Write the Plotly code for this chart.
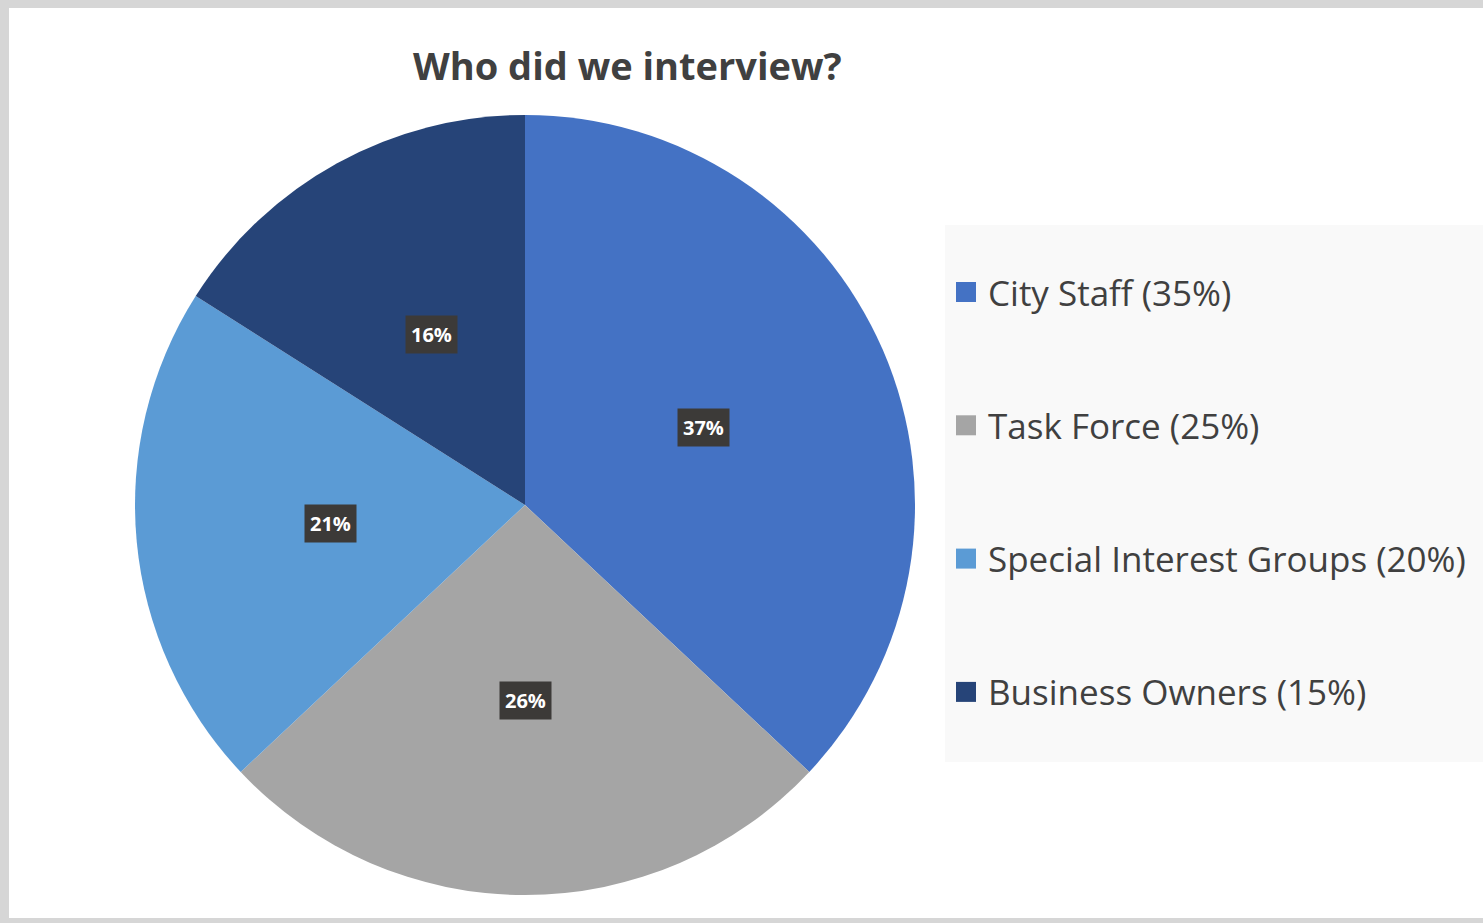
import math
import plotly.graph_objects as go

# ---- data ----
categories = ["City Staff", "Task Force", "Special Interest Groups", "Business Owners"]
slice_pct = [37, 26, 21, 16]
legend_pct = [35, 25, 20, 15]
colors = ["#4472C4", "#A5A5A5", "#5B9BD5", "#264478"]
title_text = "Who did we interview?"

W, H = 1483, 923
# pie geometry in pixels
cx, cy, R = 525, 505, 390

def px(x):
    return x / W

def py(y):
    return 1 - y / H

fig = go.Figure()
fig.add_trace(go.Pie(
    labels=categories,
    values=slice_pct,
    sort=False,
    direction="clockwise",
    rotation=0,
    marker=dict(colors=colors, line=dict(width=0)),
    textinfo="none",
    hoverinfo="label+percent",
    showlegend=False,
    domain=dict(x=[px(cx - R), px(cx + R)], y=[py(cy + R), py(cy - R)]),
))

shapes = []
annotations = []

# frame: gray band top/left, white inner area
shapes.append(dict(type="rect", xref="paper", yref="paper", x0=px(9), x1=1, y0=py(918), y1=py(8),
                   fillcolor="white", line=dict(width=0), layer="below"))
# legend background
shapes.append(dict(type="rect", xref="paper", yref="paper", x0=px(945), x1=1, y0=py(762), y1=py(225),
                   fillcolor="#f9f9f9", line=dict(width=0), layer="below"))

# data labels computed from slice values
total = sum(slice_pct)
cum = 0
for v in slice_pct:
    mid = (cum + v / 2) / total * 2 * math.pi
    cum += v
    lx = cx + 0.5 * R * math.sin(mid)
    ly = cy - 0.5 * R * math.cos(mid)
    annotations.append(dict(
        x=px(lx), y=py(ly), xref="paper", yref="paper", showarrow=False,
        text=f"<b>{round(v / total * 100)}%</b>",
        font=dict(family="Open Sans", size=20, color="white"),
        bgcolor="#3c3a38", borderpad=5, xanchor="center", yanchor="middle",
    ))

# legend (manual)
leg_y0, leg_step = 292, 133.3
for i, (cat, p, c) in enumerate(zip(categories, legend_pct, colors)):
    yy = leg_y0 + i * leg_step
    shapes.append(dict(type="rect", xref="paper", yref="paper",
                       x0=px(956), x1=px(976), y0=py(yy + 10), y1=py(yy - 10),
                       fillcolor=c, line=dict(width=0)))
    annotations.append(dict(
        x=px(986), y=py(yy), xref="paper", yref="paper", showarrow=False,
        text=f"{cat} ({p}%)", xanchor="left", yanchor="middle",
        font=dict(family="Open Sans", size=35, color="#404040"),
    ))

# title
annotations.append(dict(
    x=px(627), y=py(65), xref="paper", yref="paper", showarrow=False,
    text=f"<b>{title_text}</b>", xanchor="center", yanchor="middle",
    font=dict(family="Open Sans", size=38, color="#404040"),
))

fig.update_layout(
    width=W, height=H,
    margin=dict(l=0, r=0, t=0, b=0),
    paper_bgcolor="#d6d6d6",
    plot_bgcolor="white",
    shapes=shapes,
    annotations=annotations,
    showlegend=False,
)

fig.write_html("out.html", config={"displayModeBar": False},
               post_script="document.body.style.margin='0';")
